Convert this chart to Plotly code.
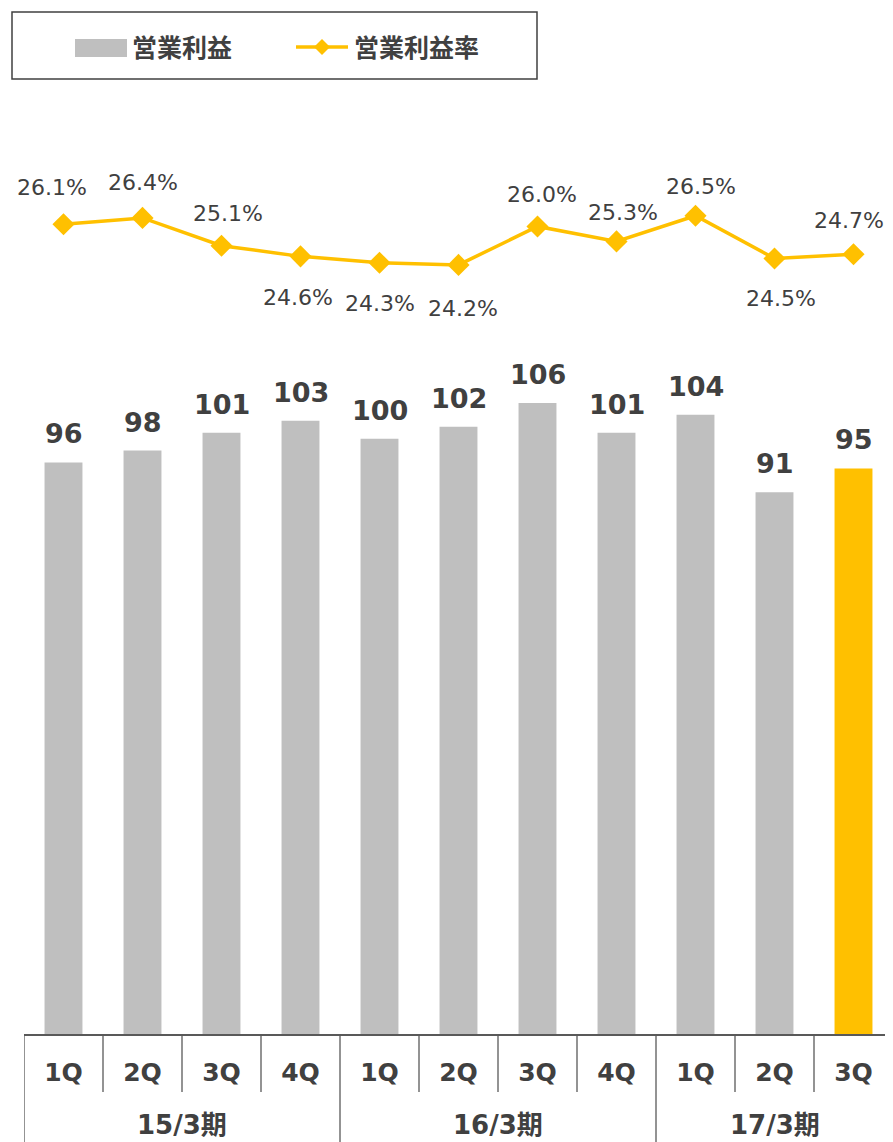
import plotly.graph_objects as go

periods = ["15/3期", "16/3期", "17/3期"]
period_sizes = [4, 4, 3]
quarters = ["1Q", "2Q", "3Q", "4Q", "1Q", "2Q", "3Q", "4Q", "1Q", "2Q", "3Q"]
op_income = [96, 98, 101, 103, 100, 102, 106, 101, 104, 91, 95]
op_margin = [26.1, 26.4, 25.1, 24.6, 24.3, 24.2, 26.0, 25.3, 26.5, 24.5, 24.7]
bar_colors = ["#BFBFBF"] * 10 + ["#FFC000"]
label_dx = [-12, 0, 6, -3, 0, 4, 4, 6, 5, 6, -5]
label_dy = [37, 35, 32, -41, -41, -44, 32, 29, 29, -40, 34]

TXT = "#404040"
AX = "#595959"
FONT = "Verdana, DejaVu Sans, Noto Sans CJK JP, sans-serif"
CJK = "Noto Sans CJK JP, sans-serif"

OFF = 8  # page body margin
W, H = 893 - OFF, 1142 - OFF
L, R = 24 - OFF, 0
T = 141 - OFF
B = H - (1034 - OFF)
PW, PH = W - L - R, H - T - B


def px(xs):
    return (xs - OFF - L) / PW


def py(ys):
    return (H - B - (ys - OFF)) / PH


idx = list(range(len(op_income)))

fig = go.Figure()
fig.add_trace(go.Bar(
    x=idx, y=op_income, marker=dict(color=bar_colors, line=dict(width=0)),
    width=0.48, name="営業利益",
))
fig.add_trace(go.Scatter(
    x=idx, y=op_margin, yaxis="y2", mode="lines+markers",
    line=dict(color="#FFC000", width=3.5),
    marker=dict(symbol="diamond", size=17, color="#FFC000"),
    name="営業利益率", cliponaxis=False,
))

annotations = []
for i in idx:
    annotations.append(dict(
        x=i, y=op_income[i], xref="x", yref="y", yanchor="bottom",
        text=f"<b>{op_income[i]}</b>", showarrow=False, yshift=11,
        font=dict(size=27, color=TXT, family=FONT),
    ))
    annotations.append(dict(
        x=i, y=op_margin[i], xref="x", yref="y2",
        text=f"{op_margin[i]:.1f}%", showarrow=False,
        xshift=label_dx[i], yshift=label_dy[i],
        font=dict(size=22, color=TXT, family=FONT),
    ))

shapes = []
# x-axis category boundaries and period dividers
start = 0
group_starts = []
for n in period_sizes:
    group_starts.append(start)
    start += n
for b in range(len(quarters)):
    full = b in group_starts
    shapes.append(dict(type="line", xref="x", yref="paper", x0=b - 0.5, x1=b - 0.5,
                       y0=0, y1=py(1160 if full else 1092),
                       line=dict(color=AX, width=1.3)))
for g, n in enumerate(period_sizes):
    s = group_starts[g]
    annotations.append(dict(x=s + (n - 1) / 2, y=py(1125), xref="x", yref="paper",
                            yanchor="middle", text=f"<b>{periods[g]}</b>", showarrow=False,
                            font=dict(size=26, color=TXT, family=FONT)))

# manual legend
annotations.append(dict(x=px(130), y=py(46), xref="paper", yref="paper", xanchor="left",
                        yanchor="middle", text="<b>営業利益</b>", showarrow=False,
                        font=dict(size=25, color=TXT, family=CJK)))
annotations.append(dict(x=px(352), y=py(46), xref="paper", yref="paper", xanchor="left",
                        yanchor="middle", text="<b>営業利益率</b>", showarrow=False,
                        font=dict(size=25, color=TXT, family=CJK)))

shapes += [
    dict(type="rect", xref="paper", yref="paper", x0=px(12), x1=px(537), y0=py(12), y1=py(79),
         line=dict(color="#404040", width=1.5), fillcolor="rgba(0,0,0,0)"),
    dict(type="rect", xref="paper", yref="paper", x0=px(75), x1=px(127), y0=py(39), y1=py(57),
         line=dict(width=0), fillcolor="#BFBFBF"),
    dict(type="line", xref="paper", yref="paper", x0=px(296), x1=px(348), y0=py(47), y1=py(47),
         line=dict(color="#FFC000", width=3.5)),
    dict(type="path", xref="paper", yref="paper",
         path=f"M {px(322)} {py(39)} L {px(330)} {py(47)} L {px(322)} {py(55)} L {px(314)} {py(47)} Z",
         line=dict(width=0), fillcolor="#FFC000"),
]

fig.update_layout(
    width=W, height=H, margin=dict(l=L, r=R, t=T, b=B, autoexpand=False),
    paper_bgcolor="white", plot_bgcolor="white", showlegend=False,
    xaxis=dict(range=[-0.5, len(idx) - 0.5], tickmode="array", tickvals=idx, ticktext=quarters,
               showline=True, linecolor=AX, linewidth=1.5,
               ticks="outside", ticklen=15, tickcolor="rgba(0,0,0,0)",
               tickfont=dict(size=25, color=TXT, family=FONT, weight="bold"),
               showgrid=False, zeroline=False, fixedrange=True),
    yaxis=dict(range=[0, 150], visible=False, showgrid=False, zeroline=False),
    yaxis2=dict(range=[-11.8, 30], overlaying="y", visible=False, showgrid=False, zeroline=False),
    annotations=annotations, shapes=shapes,
)

fig.write_html("out.html")
